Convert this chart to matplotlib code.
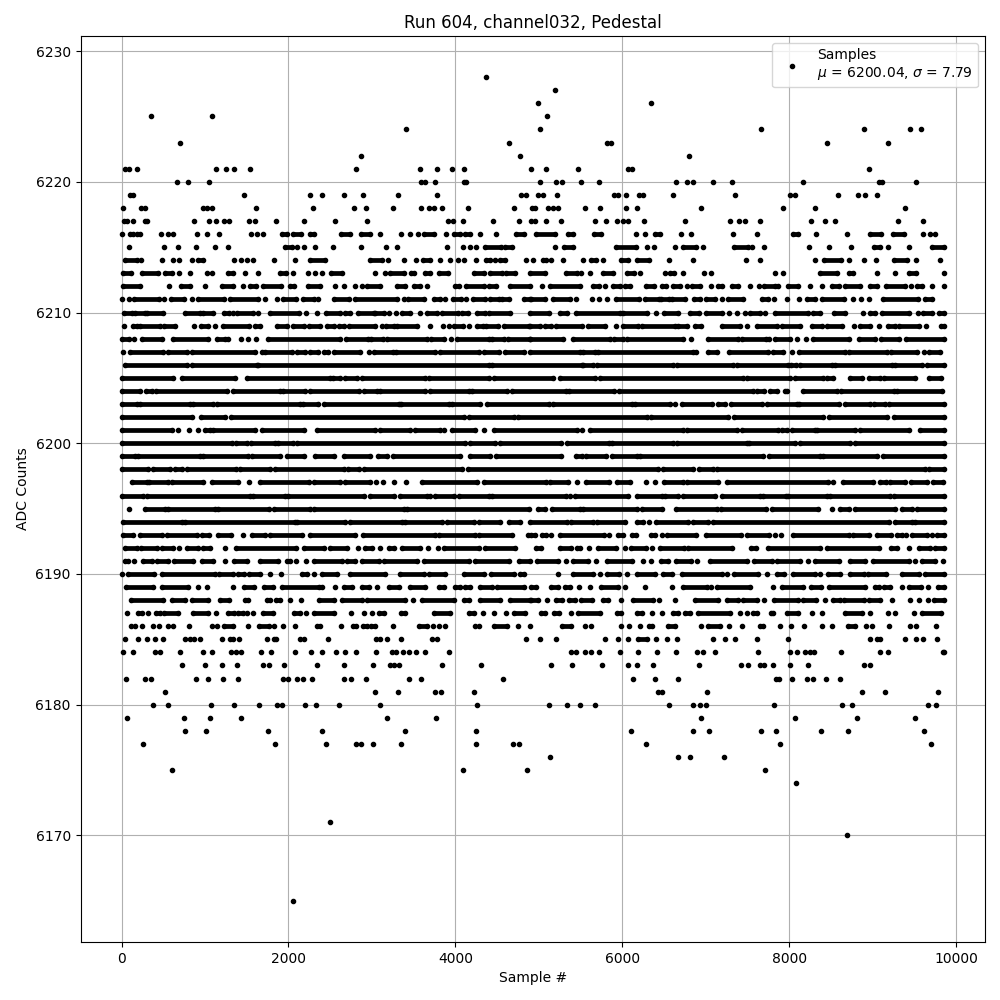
import matplotlib
matplotlib.use("Agg")
import matplotlib.pyplot as plt

# Values, row by row (ADC level -> sample numbers).
# A number is one visible dot. A (first, last) pair is a stretch of overlapping dots
# whose individual samples cannot be told apart; it is drawn as a solid stroke.
level_6228 = [4364]
level_6227 = [5196]
level_6226 = [4992, 6348]
level_6225 = [356, 1088, 5100]
level_6224 = [3404, 5016, 7668, 8892, 9444, 9580]
level_6223 = [704, 4640, 5820, 5864, 8460, 9180]
level_6222 = [2864, 4772, 6804]
level_6221 = [36, 84, 180, 1128, 1248, 1344, 1544, 2804, 3572, 3776, 3956, 4104, 4904, 5088, 5472, 6072, 6112, 8952]
level_6220 = [668, 800, 1052, 3588, 3636, 3752, 4108, 4128, 5016, 5208, 5280, 5508, 5724, 6648, 6780, 6844, 7092, 7320, 8172, 9072, 9112, 9516]
level_6219 = [100, 132, 1472, 2252, 2396, 2660, 2888, 3308, 3776, 4792, 4852, 4992, 5052, 5220, 5904, 5952, 6048, 6204, 6244, 6612, 7356, 8016, 8076, 8580, 8820, 8904, 9048]
level_6218 = [20, 228, 280, 980, 1028, 1080, 1616, 2288, 2780, 2924, 3248, 3588, 3680, 3740, 3836, 4152, 4700, 4924, 4960, 5112, 5172, 5232, 5556, 5736, 6040, 6180, 6948, 7932, 8316, 9384]
level_6217 = [28, 68, 140, 280, 308, 872, 1052, 1136, 1224, 1292, 1532, 1604, 1856, 2180, 2552, 2936, 3912, 3968, 4088, 4448, 4760, 4912, 4952, 5088, 5268, 5676, 5808, 5940, 6004, 6072, 6264, 6756, 7296, 7404, 7476, 7656, 8268, 8436, 8544, 9300, 9600]
level_6216 = [0, 100, 132, 180, 220, 476, 560, 612, 908, 1020, 1172, 1556, 1628, 1700, (1920, 1980), (2060, 2148), (2252, 2300), (2628, 2732), (2868, 2980), 3092, 3344, 3452, 3548, (3620, 3740), 3884, (3980, 4060), (4112, 4180), 4292, 4492, (4732, 4820), (4972, 5192), (5352, 5412), (5660, 5740), 6160, 6268, (6392, 6452), 6708, 6828, 7332, 7620, (8044, 8104), 8328, 8688, (8972, 9100), (9244, 9380), 9600, 9692, 9752]
level_6215 = [92, 512, 680, 896, 1124, 1280, (1960, 2040), 2108, 2180, 2312, 2528, 2864, 3164, 3296, 3896, 4088, 4172, 4244, (4360, 4552), (4600, 4680), 5196, (5300, 5412), (5924, 6164), 6292, 6380, 6636, (6724, 6884), 6972, (7340, 7512), 7560, 7704, 8244, 8484, 8736, (9012, 9092), 9180, 9432, (9712, 9852)]
level_6214 = [(36, 180), 228, 488, 620, 692, 848, (920, 972), 1352, 1428, 1500, 1580, 1832, 2084, (2260, 2440), (2980, 3120), 3196, 3380, 3524, (3612, 3692), 3820, 3940, 4028, 4100, 4244, (4372, 4420), 4480, (4540, 4600), 4852, 4932, (5052, 5092), 5152, 5292, 5532, (5624, 5684), 5772, (5984, 6072), (6172, 6320), 6564, 6844, 7488, 7656, 8316, (8420, 8620), 8716, 8892, 9036, (9252, 9412), 9516, 9804]
level_6213 = [(12, 108), (248, 440), (520, 608), 692, 824, 1020, 1088, (1280, 1340), 1484, 1640, (1900, 1968), 2056, 2228, 2312, 2396, (2508, 2640), 3032, 3152, (3220, 3380), (3472, 3508), (3640, 3700), (3800, 3908), (4220, 4340), (4412, 4560), (4608, 4720), (4892, 5072), (5324, 5452), 5508, 5616, (5772, 5884), (6060, 6144), 6216, 6516, (6572, 6624), 6732, 6984, 7068, 7836, 7924, (8372, 8572), (8712, 8764), 9048, 9264, (9432, 9524), 9852]
level_6212 = [(12, 220), 572, (708, 820), 1004, (1200, 1332), 1460, (1540, 1608), (1700, 1912), (2020, 2068), (2232, 2372), 2560, 2668, 2792, 2880, (2940, 3100), (3300, 3400), (3508, 3580), 3656, (4000, 4048), (4132, 4340), (4400, 4492), (4660, 4900), 5036, (5132, 5492), (5652, 5724), 5796, (5884, 5972), (6032, 6092), (6280, 6380), (6472, 6524), (6612, 6692), 6772, (6832, 6932), 7068, (7144, 7192), (7312, 7392), 7532, 7644, (7704, 7832), 7872, (7992, 8112), 8256, 8396, (8512, 8592), (8672, 8852), (8972, 9052), (9164, 9392), 9460, (9532, 9592), 9708, 9852]
level_6211 = [8, 92, (148, 452), 512, (588, 748), 840, (920, 1228), (1300, 1636), 1724, 1860, (1932, 2092), (2172, 2300), 2348, (2548, 2720), (2800, 3300), 3380, (3432, 3620), (3740, 3820), 3872, (3972, 4068), 4128, (4212, 4360), (4420, 4520), (4560, 4640), (4820, 4900), (4908, 5076), (5172, 5372), 5448, 5640, 5724, 5812, (5924, 6204), (6272, 6444), (6460, 6556), (6592, 6752), (6860, 6932), (7004, 7112), 7200, (7272, 7452), (7672, 7752), 7824, 7980, 8124, (8220, 8312), (8392, 8652), 8760, 8864, 8952, (9124, 9540), (9632, 9712)]
level_6210 = [(28, 120), (160, 280), (300, 500), (760, 940), (972, 1100), (1228, 1292), 1332, (1388, 1572), 1640, (1780, 2120), 2204, 2336, (2452, 2620), (2676, 2740), (2828, 3020), (3040, 3140), 3200, 3284, (3360, 3452), 3572, (3660, 3780), (3840, 4028), (4080, 4148), (4260, 4360), (4400, 4660), (4892, 5124), (5252, 5332), (5440, 5972), (6012, 6292), 6404, (6500, 6672), (6812, 6924), (7004, 7192), 7276, 7380, 7476, (7532, 7652), 7708, (7832, 8232), (8292, 8372), (8540, 8672), 8880, (8964, 9032), (9112, 9432), 9540, (9604, 9712), (9792, 9852)]
level_6209 = [32, (140, 180), (220, 460), (508, 640), 872, (948, 1040), 1124, (1220, 1532), (1600, 1660), (1860, 1988), (2060, 2188), (2240, 2380), (2460, 2540), (2600, 2660), (2724, 3040), 3120, (3172, 3260), (3300, 3540), 3696, 3848, 3920, (3980, 4092), 4160, (4260, 4332), (4372, 4508), (4580, 4880), (4892, 5012), (5072, 5152), (5204, 5512), (5592, 5792), 5928, (6012, 6192), (6240, 6632), (6672, 6780), (6872, 6944), (7192, 7412), 7492, (7612, 7852), (7912, 8132), (8272, 8392), (8460, 8632), 8772, (8852, 8972), 9076, (9180, 9272), (9312, 9552), 9644, (9820, 9852)]
level_6208 = [(0, 92), 152, (240, 480), (620, 1032), (1140, 1240), 1280, 1428, 1520, 1616, (1760, 2620), (2692, 2948), (2988, 3132), (3180, 3660), (3708, 3860), 3944, (4020, 4400), (4440, 4588), (4628, 4900), (4892, 5292), (5412, 5852), (5900, 6004), (6060, 6724), 6820, (7032, 7392), (7432, 7724), 7764, (7832, 8012), 8100, 8208, (8284, 8712), (8832, 9032), (9100, 9312), (9404, 9852)]
level_6207 = [20, (100, 492), (560, 788), (840, 1600), 1680, (1720, 2040), (2100, 2200), (2260, 2348), (2420, 2468), (2548, 2860), 2960, (3020, 3252), (3292, 3760), (3820, 4280), (4340, 4520), (4600, 4820), (4892, 5492), (5532, 5672), (5712, 6852), 6884, (7032, 7132), (7276, 7752), (7812, 7932), 8040, (8124, 8672), (8712, 9172), (9220, 9532), 9612, (9672, 9804)]
level_6206 = [(40, 788), (840, 1620), (1640, 4400), (4440, 5512), (5532, 5652), (5692, 6604), (6660, 7332), (7372, 7992), (8020, 8084), (8132, 8512), (8552, 9232), (9272, 9592), (9652, 9852)]
level_6205 = [(0, 620), (720, 1360), (1500, 2500), (2532, 2620), (2680, 2820), (2880, 3640), (3680, 4400), (4468, 5172), (5252, 5672), (5732, 7452), (7492, 8012), (8072, 8412), (8452, 8532), (8732, 8872), (8952, 9092), (9132, 9512), (9672, 9820)]
level_6204 = [(0, 220), (292, 360), (412, 1268), (1340, 1900), (1940, 2200), (2252, 2840), (2900, 3060), (3100, 3640), (3692, 4160), (4200, 4620), (4680, 5324), (5364, 5900), (5964, 7564), (7612, 7704), (7772, 7852), (7952, 7980), (8164, 8572), (8620, 9252), (9292, 9832)]
level_6203 = [(0, 180), (220, 820), (860, 1100), (1140, 2140), (2172, 2348), (2428, 3320), (3348, 3920), (3960, 4300), (4380, 5124), (5172, 6112), (6152, 6572), 6628, (6712, 7072), (7152, 7232), (7300, 7672), (7740, 8092), (8124, 8592), (8672, 8972), (9012, 9152), (9192, 9852)]
level_6202 = [(0, 840), (948, 1240), (1308, 4108), (4160, 4700), (4748, 6292), (6340, 7272), (7340, 8412), (8484, 9172), (9252, 9852)]
level_6201 = [(0, 600), 672, 808, 920, (1000, 1060), (1100, 1600), (1680, 2188), (2340, 3040), (3092, 3460), (3520, 3820), 3860, (3960, 4240), 4340, (4468, 5452), 5512, (5616, 6732), (6772, 7372), (7432, 7872), (7912, 7972), (8032, 8312), (8340, 8792), (8852, 9432), (9564, 9852)]
level_6200 = [(0, 1320), (1372, 1508), (1548, 1840), (1880, 2052), (2100, 4120), (4172, 4480), (4540, 5272), (5340, 5844), (5872, 6612), (6660, 7492), (7524, 8072), (8132, 8732), (8792, 9852)]
level_6199 = [(0, 160), (200, 940), (980, 1520), (1560, 1900), (1980, 2180), (2320, 2548), (2660, 2980), (3068, 3180), (3252, 4060), (4180, 4420), (4492, 5272), (5444, 5512), (5564, 5804), (5872, 6172), (6212, 7692), (7764, 8372), (8412, 9052), (9124, 9852)]
level_6198 = [(0, 320), (380, 580), (640, 720), (780, 1372), (1420, 1780), (1840, 2660), (2708, 2840), (2908, 4080), (4152, 6432), (6484, 6852), (6916, 7092), (7140, 9632), (9672, 9852)]
level_6197 = [(120, 300), (332, 560), (600, 980), (1080, 1400), 1532, (1660, 2240), (2300, 2620), (2680, 2980), 3044, 3132, 3264, 3408, (3600, 4260), (4340, 5092), (5140, 5352), 5456, (5564, 5844), (5932, 6092), 6288, 6396, (6500, 6732), (6772, 7152), (7252, 8472), 8532, (8644, 9004), (9092, 9164), (9212, 9392), (9464, 9652), (9724, 9844)]
level_6196 = [(0, 260), (300, 1540), (1580, 1960), (2000, 2908), (2980, 3260), (3340, 3660), 3700, (3760, 3980), (4040, 4400), (4440, 5324), 5372, (5432, 6072), (6180, 6472), (6512, 6672), (6732, 7112), (7192, 7652), (7692, 7964), (7992, 8452), (8492, 9204), (9252, 9852)]
level_6195 = [92, (280, 520), (560, 1120), (1160, 1772), (1828, 2260), (2300, 3380), (3420, 4880), (4992, 5072), (5164, 5492), (5532, 6180), (6232, 6472), (6644, 7140), (7180, 7724), (7792, 8352), 8512, (8612, 8712), (8792, 9272), (9352, 9472), (9532, 9852)]
level_6194 = [(12, 720), (760, 2080), (2100, 2680), (2732, 3360), (3400, 3840), (3900, 4220), (4280, 4540), (4640, 4780), (4892, 5340), (5380, 5652), (5692, 6032), (6172, 6252), 6324, (6404, 6792), (6852, 7032), (7084, 9192), (9272, 9472), (9512, 9852)]
level_6193 = [(20, 140), (220, 480), (540, 900), (960, 1052), (1160, 1308), 1460, (1560, 1720), (1780, 2160), (2252, 2800), (2892, 3760), (3800, 4240), (4280, 4680), 4868, (4912, 4952), (5044, 5092), 5152, (5260, 5780), 5844, (5952, 6012), (6112, 6164), (6340, 6396), 6480, (6540, 6884), (7004, 7420), (7500, 7764), 7832, 7900, (8052, 8712), (8764, 8952), (9052, 9220), (9292, 9352), 9400, (9472, 9652), 9712, (9772, 9852)]
level_6192 = [(40, 180), (228, 420), (480, 620), 692, (780, 920), (980, 1060), 1236, (1372, 2092), (2180, 2420), (2500, 2700), 2828, (2920, 3000), 3092, (3200, 3268), (3360, 3580), 3672, 3792, (3868, 4280), (4360, 4720), (4972, 5032), (5252, 5380), (5452, 5492), 5604, (5712, 5924), 6028, (6100, 6284), 6360, (6452, 6740), (6792, 7312), (7540, 7604), (7752, 8372), (8452, 9072), (9220, 9292), 9432, (9552, 9692), (9752, 9852)]
level_6191 = [(40, 80), 152, (260, 360), (428, 560), (628, 860), (960, 1100), 1240, (1348, 1508), (1660, 1880), (1980, 2020), 2092, 2208, (2300, 2640), (2700, 2800), (2880, 3080), (3140, 3540), (3620, 4160), (4240, 4640), (4760, 4900), (4980, 5232), 5328, (5412, 5592), 5680, (5820, 6112), 6252, 6340, (6460, 6548), (6644, 6824), 6900, (7052, 7492), (7580, 7792), (7852, 8132), 8232, (8312, 8592), (8724, 8912), (9004, 9432), 9504, (9592, 9752), 9840]
level_6190 = [0, (80, 392), (480, 1120), (1172, 1332), (1400, 1472), (1532, 1660), 1784, 1916, (2160, 2220), 2308, (2404, 2580), (2740, 3160), (3332, 3620), (3680, 3880), (4100, 4340), (4432, 4700), (4780, 4820), 5232, (5412, 5652), 5736, (5820, 5964), 6060, (6172, 6392), (6492, 6592), (6712, 7192), 7256, (7344, 7632), 7732, (7852, 7940), (8052, 8312), 8376, (8472, 8612), (8732, 8892), (8940, 9164), (9352, 9552), (9632, 9852)]
level_6189 = [(52, 380), (480, 800), 916, 1028, 1340, (1472, 1588), (1708, 1820), (1920, 2360), 2400, 2560, (2660, 2760), (2880, 2960), 3060, (3200, 3320), (3460, 3640), (3800, 3860), (4000, 4052), (4120, 4180), (4300, 4440), (4500, 4820), (4912, 4964), (5152, 5232), (5312, 5372), 5480, 5612, (5740, 5952), 6028, 6276, 6600, (6724, 7012), 7060, (7132, 7532), 7812, (7912, 8172), (8260, 8380), (8484, 8912), (9032, 9072), (9140, 9204), 9352, (9432, 9580), 9664, (9780, 9852)]
level_6188 = [(108, 500), (600, 760), (840, 1040), (1180, 1292), (1480, 1520), (1740, 1780), (1848, 1900), 2024, 2148, (2360, 2540), (2640, 2880), (2940, 3400), 3488, (3600, 3980), (4100, 4160), (4292, 4532), (4652, 4900), (4912, 4992), 5100, (5212, 5280), (5360, 5432), (5500, 5632), (5764, 5832), 5984, (6124, 6372), 6444, 6636, (6872, 7152), (7252, 7392), (7452, 7612), 7704, (7820, 8112), (8172, 8324), 8428, (8532, 8612), (8652, 8892), (8952, 9092), 9232, 9444, 9552, 9660, (9740, 9852)]
level_6187 = [60, (200, 248), 320, (408, 460), (508, 680), (860, 1040), 1128, (1280, 1348), (1400, 1452), 1508, 1580, (1692, 1820), (2072, 2140), 2208, (2300, 2540), 2748, 2900, 3000, (3080, 3140), (3348, 3400), (3740, 3940), (4160, 4220), 4332, 4460, 4608, (4700, 4840), (5024, 5080), (5180, 5244), 5388, (5472, 5732), (5932, 5984), (6172, 6232), 6360, 6480, (6612, 6672), (6752, 6812), (6904, 7292), 7416, 7492, (7564, 7612), (7780, 7812), (7972, 8112), 8276, 8400, (8664, 8872), 8964, 9180, 9264, 9492, (9592, 9820)]
level_6186 = [108, 160, 240, 380, 448, 560, 620, 812, 1088, 1140, (1232, 1340), 1520, (1648, 1772), 1832, 1940, 2084, (2340, 2372), 2624, (2768, 2812), (2888, 2940), (2988, 3040), 3256, (3560, 3660), 3728, 3800, 3880, 4232, 4288, (4460, 4620), 4748, 4892, (5280, 5380), 5556, 5620, 5988, 6084, 6216, (6324, 6352), (6552, 6632), 6944, (7032, 7172), 7280, 7440, (7652, 7692), 7896, 8028, 8184, 8392, 8520, (8700, 8792), 8924, 8992, 9192, 9452, 9520, 9756]
level_6185 = [44, 200, 308, 404, 500, 764, 824, 872, 944, 1208, 1300, 1340, 1412, 1748, 1828, 1848, 2140, 2188, 2476, 3052, 3100, 3176, 3352, 3716, 3780, 4844, 5016, 5208, 5796, 5952, 6072, (6192, 6292), 6408, 6540, 6660, 7092, 7236, 7356, 7616, 7992, 8964, 9052, 9092, 9384, 9516, 9600, 9768]
level_6184 = [20, 140, 400, 460, 704, 980, 1088, 1308, 1368, 1428, 1676, 1796, 2080, 2264, 2400, 2564, 2672, 2804, 3052, 3240, 3288, 3368, 3440, 3524, 3632, 3920, 5380, 5440, 5548, 5620, 5724, 5976, 6192, 6412, 6648, 6892, 6972, 7112, 7632, 8016, 8092, 8196, 8250, 8304, 8616, 9084, 9180, 9840, 9855]
level_6183 = [728, 1004, 1208, 1388, 1700, 1772, 1952, 2336, 2660, 3008, 3220, 3270, 3320, 3836, 4304, 5148, 5392, 5760, 6072, 6180, 6372, 6924, 7428, 7512, 7652, 7704, 7812, 8016, 8232, 8896, 8964]
level_6182 = [56, 284, 356, 896, 1040, 1220, 1400, 1940, 2000, 2108, 2168, 2276, 2660, 2744, 2924, 3440, 3584, 4568, 6132, 6396, 6672, 7844, 7884, 8040, 8220, 8292, 8448, 8604]
level_6181 = [520, 3032, 3316, 3752, 3824, 4220, 6432, 6472, 7020, 8868, 9144, 9780]
level_6180 = [380, 560, 1076, 1352, 1652, 1868, 1928, 2192, 2324, 2600, 3100, 4256, 5124, 5340, 5496, 5676, 6564, 6852, 6936, 7000, 7824, 8628, 8748, 9660, 9756]
level_6179 = [68, 752, 1064, 1436, 3176, 3764, 6948, 8072, 8808, 9504]
level_6178 = [764, 1016, 1760, 2396, 3392, 4244, 6108, 6852, 7044, 7668, 7848, 8388, 8700, 9612]
level_6177 = [260, 1844, 2444, 2804, 2864, 3008, 3344, 4244, 4688, 4760, 6288, 7896, 9696]
level_6176 = [5136, 6672, 6816, 7224]
level_6175 = [608, 4088, 4856, 7716]
level_6174 = [8088]
level_6171 = [2492]
level_6170 = [8688]
level_6165 = [2060]

levels = [6228, 6227, 6226, 6225, 6224, 6223, 6222, 6221, 6220, 6219, 6218, 6217, 6216, 6215,
          6214, 6213, 6212, 6211, 6210, 6209, 6208, 6207, 6206, 6205, 6204, 6203, 6202, 6201,
          6200, 6199, 6198, 6197, 6196, 6195, 6194, 6193, 6192, 6191, 6190, 6189, 6188, 6187,
          6186, 6185, 6184, 6183, 6182, 6181, 6180, 6179, 6178, 6177, 6176, 6175, 6174, 6171,
          6170, 6165]
rows = [level_6228, level_6227, level_6226, level_6225, level_6224, level_6223, level_6222,
        level_6221, level_6220, level_6219, level_6218, level_6217, level_6216, level_6215,
        level_6214, level_6213, level_6212, level_6211, level_6210, level_6209, level_6208,
        level_6207, level_6206, level_6205, level_6204, level_6203, level_6202, level_6201,
        level_6200, level_6199, level_6198, level_6197, level_6196, level_6195, level_6194,
        level_6193, level_6192, level_6191, level_6190, level_6189, level_6188, level_6187,
        level_6186, level_6185, level_6184, level_6183, level_6182, level_6181, level_6180,
        level_6179, level_6178, level_6177, level_6176, level_6175, level_6174, level_6171,
        level_6170, level_6165]

title = "Run 604, channel032, Pedestal"
legend_label = "Samples\n$\\mu$ = 6200.04, $\\sigma$ = 7.79"

dot_x, dot_y, span_y, span_start, span_end = [], [], [], [], []
for level, row in zip(levels, rows):
    for item in row:
        if isinstance(item, tuple):
            span_y.append(level)
            span_start.append(item[0])
            span_end.append(item[1])
            dot_x.extend(item)
            dot_y.extend([level, level])
        else:
            dot_x.append(item)
            dot_y.append(level)

fig, ax = plt.subplots(figsize=(10, 10), dpi=100)
ax.hlines(span_y, span_start, span_end, colors="black", linewidth=3.4, capstyle="round", zorder=2)
ax.plot(dot_x, dot_y, ".", color="black", label=legend_label, zorder=2)
ax.set_title(title, pad=6)
ax.set_xlabel("Sample #")
ax.set_ylabel("ADC Counts")
ax.grid(True)
ax.legend(loc="upper right")
fig.subplots_adjust(left=0.0805, right=0.985, top=0.964, bottom=0.058)
fig.savefig("out.png", dpi=100)
